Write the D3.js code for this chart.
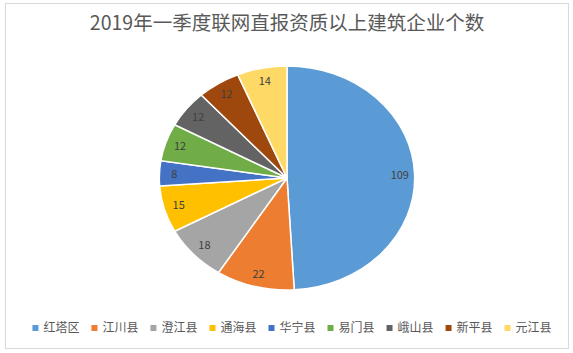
<!DOCTYPE html>
<html>
<head>
	<script src="https://cdnjs.cloudflare.com/ajax/libs/d3/7.8.2/d3.min.js"></script>
	<style>
		body { margin: 0 ; background: #fff ; }
		svg { display: block ; font-family: "Noto Sans CJK SC", "Noto Sans", sans-serif ; }
	</style>
</head>
<body>
	<svg id="canvas"></svg>
<script>
	let title = "2019年一季度联网直报资质以上建筑企业个数" ;
	let counties = [ "红塔区", "江川县", "澄江县", "通海县", "华宁县", "易门县", "峨山县", "新平县", "元江县" ] ;
	let counts = [ 109, 22, 18, 15, 8, 12, 12, 12, 14 ] ;
	let colours = [ "#5B9BD5", "#ED7D31", "#A5A5A5", "#FFC000", "#4472C4", "#70AD47", "#636363", "#9E480E", "#FFD966" ] ;

	let geom = {
		width: 573,
		height: 353,
		cx: 287,
		cy: 178,
		r: 112,
		stretch: 1.14,
		labelR: 99
	} ;

	let svg = d3.select( 'svg' )
		.attr( 'width', geom.width )
		.attr( 'height', geom.height ) ;

	// chart area frame
	svg.append( 'rect' )
		.attr( 'x', 5.5 ).attr( 'y', 3.5 )
		.attr( 'width', 563 ).attr( 'height', 345 )
		.attr( 'fill', '#fff' )
		.attr( 'stroke', '#d9d9d9' ) ;

	svg.append( 'text' )
		.attr( 'x', geom.cx )
		.attr( 'y', 30 )
		.attr( 'text-anchor', 'middle' )
		.attr( 'font-size', 19.5 )
		.attr( 'fill', '#595959' )
		.text( title ) ;

	let data = counties.map( (c, i) => ( { name: c, value: counts[i], colour: colours[i] } ) ) ;

	let pie = d3.pie()
		.sort( null )
		.value( d => d.value ) ;
	let arcs = pie( data ) ;

	let arc = d3.arc().innerRadius( 0 ).outerRadius( geom.r ) ;
	let labelArc = d3.arc().innerRadius( geom.labelR ).outerRadius( geom.labelR ) ;

	let g = svg.append( 'g' )
		.attr( 'transform', 'translate(' + geom.cx + ',' + geom.cy + ')' ) ;

	g.append( 'g' )
		.attr( 'transform', 'scale(' + geom.stretch + ',1)' )
		.selectAll( 'path' )
		.data( arcs )
		.join( 'path' )
		.attr( 'd', arc )
		.attr( 'fill', d => d.data.colour )
		.attr( 'stroke', '#fff' )
		.attr( 'stroke-width', 1.5 )
		.attr( 'vector-effect', 'non-scaling-stroke' ) ;

	g.selectAll( 'text.label' )
		.data( arcs )
		.join( 'text' )
		.attr( 'class', 'label' )
		.attr( 'x', d => labelArc.centroid( d )[0] * geom.stretch )
		.attr( 'y', d => labelArc.centroid( d )[1] )
		.attr( 'dy', '0.35em' )
		.attr( 'text-anchor', 'middle' )
		.attr( 'font-size', 11 )
		.attr( 'fill', '#404040' )
		.text( d => d.data.value ) ;

	// legend, laid out left to right from measured text widths
	let legend = svg.append( 'g' ) ;
	let items = legend.selectAll( 'g' )
		.data( data )
		.join( 'g' ) ;
	items.append( 'rect' )
		.attr( 'width', 6 ).attr( 'height', 6 )
		.attr( 'y', -3 )
		.attr( 'fill', d => d.colour ) ;
	items.append( 'text' )
		.attr( 'x', 11 )
		.attr( 'dy', '0.35em' )
		.attr( 'font-size', 12 )
		.attr( 'fill', '#595959' )
		.text( d => d.name ) ;

	let xs = [] ;
	let total = 0 ;
	items.each( function() {
		let w = this.getBBox().width ;
		xs.push( total ) ;
		total += w + 12 ;
	} ) ;
	total -= 12 ;
	let startX = 292 - total / 2 ;
	items.attr( 'transform', (d, i) => 'translate(' + (startX + xs[i]) + ',328)' ) ;
</script>
</body>
</html>
